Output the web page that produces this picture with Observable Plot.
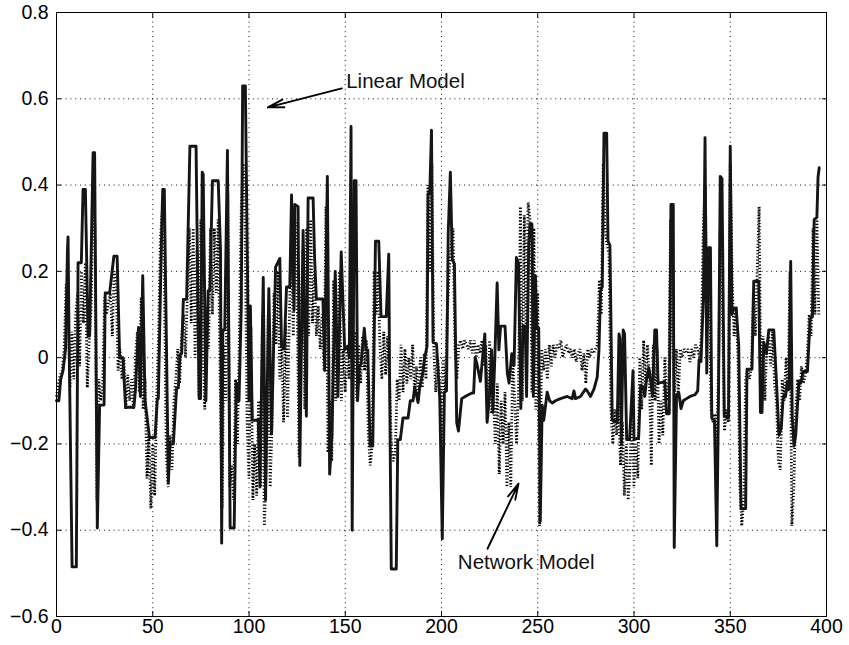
<!DOCTYPE html>
<html>
<head>
<meta charset="utf-8">
<script src="https://cdn.jsdelivr.net/npm/d3@7"></script>
<script src="https://cdn.jsdelivr.net/npm/@observablehq/plot@0.6"></script>
<style>
  html, body { margin: 0; padding: 0; background: #fff; }
  #chart svg { display: block; }
</style>
</head>
<body>
<div id="chart"></div>
<script>
// ---- Axis ticks ----
const xTicks = [0, 50, 100, 150, 200, 250, 300, 350, 400];
const yTicks = [-0.6, -0.4, -0.2, 0, 0.2, 0.4, 0.6, 0.8];

// ---- Linear Model (solid) : breakpoints ----
const linX = [
  0,1.2,2.2,3.4,4.7,5.7,6.0,6.5,8.1,10.3,
  11.2,12.9,13.8,15.0,16.4,17.2,19.0,19.8,21.2,22.4,
  24.7,25.3,27.6,29.8,31.5,32.8,34.5,35.9,40.2,41.0,
  42.6,43.6,44.8,46.0,48.3,51.2,52.4,52.9,54.7,55.2,
  56.0,58.1,59.0,60.7,62.4,63.3,64.1,65.0,65.9,67.6,
  69.3,72.5,74.1,74.8,75.7,76.2,77.6,78.8,79.7,81.0,
  84.0,85.2,85.8,86.4,87.4,88.8,90.2,92.3,93.4,94.3,
  94.8,96.0,96.7,98.1,100.0,100.7,101.7,104.8,105.7,107.4,
  108.6,110.3,111.7,113.8,116.0,116.9,118.3,119.5,121.2,122.1,
  123.4,123.8,125.5,126.4,128.1,129.8,130.7,133.3,134.1,135.0,
  138.4,139.3,140.7,141.9,143.1,144.8,146.2,147.9,149.7,151.4,
  152.1,153.0,153.6,154.7,155.6,156.4,157.3,158.2,159.9,160.8,
  161.7,162.9,164.3,165.7,167.4,168.6,171.3,172.6,173.0,173.9,
  176.5,177.3,178.6,180.0,182.6,183.8,185.2,186.1,187.8,188.7,
  190.1,191.3,192.5,193.0,193.9,194.8,195.6,197.4,199.1,200.4,
  201.5,202.6,203.5,204.6,205.6,206.7,207.9,208.8,210.5,212.3,
  214.0,215.8,216.7,217.5,218.4,220.2,222.5,223.7,224.9,226.0,
  226.7,227.7,228.9,229.8,230.7,233.0,234.2,235.1,236.5,237.7,
  238.9,240.0,241.2,242.4,243.5,244.2,245.3,246.0,247.0,247.7,
  248.8,249.5,250.5,251.3,252.3,253.1,254.9,256.2,257.5,259.2,
  261.8,265.3,267.9,268.8,269.6,272.2,274.8,275.7,277.4,279.2,
  280.9,281.8,282.6,283.5,284.4,285.8,286.5,287.5,288.7,291.3,
  292.2,292.7,293.4,294.4,295.1,296.2,297.7,299.5,300.0,302.4,
  303.5,304.7,305.6,306.4,307.7,308.7,309.6,310.8,311.7,312.5,
  316.0,316.9,318.3,319.2,320.4,320.9,322.1,323.3,324.4,325.6,
  327.3,329.1,331.7,333.1,333.8,334.8,336.1,336.9,337.8,338.7,
  339.7,340.4,341.8,343.0,343.9,344.8,345.7,346.9,349.1,350.0,
  350.9,351.7,353.1,354.4,355.6,358.0,358.7,361.3,362.2,364.8,
  365.7,366.5,367.4,368.8,370.0,372.6,374.0,375.3,376.5,377.5,
  378.7,379.6,380.5,381.4,382.2,383.1,384.0,384.8,385.7,386.6,
  388.0,390.1,391.5,392.7,393.6,395.0,395.6,396.2
];
const linY = [
  -0.10,-0.10,-0.05,-0.03,0.02,0.25,0.28,0.05,-0.485,-0.485,
  0.22,0.22,0.39,0.39,0.05,0.05,0.475,0.475,-0.395,-0.11,
  -0.11,0.15,0.15,0.235,0.235,0.0,0.0,-0.115,-0.115,-0.075,
  0.07,-0.09,0.19,-0.10,-0.185,-0.185,-0.095,-0.095,0.31,0.39,
  0.39,-0.29,-0.20,-0.20,-0.07,-0.07,0.005,0.01,0.135,0.135,
  0.49,0.49,-0.095,-0.095,0.43,0.425,-0.10,0.155,0.155,0.41,
  0.41,0.25,-0.43,0.064,0.064,0.48,-0.395,-0.395,-0.06,-0.06,
  -0.10,0.12,0.63,0.63,-0.10,0.12,-0.145,-0.145,-0.30,0.186,
  -0.33,0.16,-0.177,0.21,0.23,0.027,0.02,0.164,0.164,0.377,
  0.11,0.355,0.35,-0.25,0.295,-0.136,0.37,0.37,0.227,0.136,
  0.136,-0.03,0.42,-0.27,-0.18,0.20,-0.09,0.245,0.018,0.027,
  0.0,0.536,-0.40,0.41,0.41,-0.10,-0.02,-0.015,0.068,0.018,
  0.018,-0.205,-0.205,0.27,0.27,0.095,0.095,0.24,-0.027,-0.49,
  -0.49,-0.19,-0.19,-0.14,-0.14,-0.10,-0.10,-0.068,-0.104,-0.068,
  -0.04,0.0,0.027,0.38,0.38,0.527,0.036,0.032,-0.095,-0.42,
  -0.08,-0.077,0.29,0.43,0.227,0.218,-0.15,-0.17,-0.095,-0.09,
  -0.086,-0.082,-0.082,0.0,-0.014,-0.055,0.055,-0.15,-0.09,0.018,
  -0.127,0.0,0.173,0.018,0.073,0.073,-0.036,-0.059,0.009,-0.018,
  0.232,0.218,-0.118,0.073,0.073,-0.09,0.264,0.31,0.31,-0.09,
  0.19,0.068,0.068,-0.38,-0.11,-0.145,-0.08,-0.10,-0.105,-0.10,
  -0.095,-0.09,-0.095,-0.077,-0.095,-0.09,-0.073,-0.077,-0.09,-0.073,
  -0.045,0.018,0.155,0.164,0.52,0.52,0.27,0.26,-0.145,-0.15,
  0.055,0.045,-0.20,0.064,0.055,-0.19,-0.19,-0.03,-0.19,-0.186,
  -0.064,-0.068,-0.09,-0.055,-0.023,-0.055,-0.09,0.064,0.064,-0.059,
  -0.056,-0.13,-0.13,0.355,0.355,-0.44,-0.086,-0.082,-0.118,-0.10,
  -0.095,-0.09,-0.086,-0.077,-0.005,-0.009,0.145,0.51,-0.036,0.255,
  0.255,-0.14,-0.145,-0.436,-0.09,0.42,0.415,-0.136,-0.14,0.49,
  0.10,0.114,0.114,0.027,-0.35,-0.35,-0.027,-0.027,0.177,0.177,
  -0.127,-0.127,0.036,0.009,0.064,0.064,-0.055,-0.18,-0.164,-0.09,
  -0.09,-0.055,-0.073,0.223,-0.136,-0.205,-0.18,-0.118,-0.055,-0.059,
  -0.032,-0.032,0.09,0.095,0.32,0.325,0.418,0.44
];

// ---- Network Model (dotted) : one value per sample 0..396 ----
const netY = [
  -0.09,-0.06,-0.04,-0.03,0.02,0.17,0.12,-0.07,0.06,-0.05,
  0.1,0.15,-0.02,0.2,0.08,0.22,-0.07,0.04,0.12,0.38,
  0.3,-0.33,-0.05,-0.1,-0.06,0.14,0.1,0.13,0.15,0.05,
  0.2,0.18,-0.03,0.02,-0.05,0.0,-0.12,-0.04,-0.1,-0.05,
  -0.12,0.0,0.06,-0.08,0.14,-0.12,-0.05,-0.28,-0.18,-0.35,
  -0.2,-0.32,-0.1,0.05,0.28,0.34,0.2,-0.22,-0.3,-0.18,
  -0.26,-0.1,-0.05,0.02,-0.06,0.05,0.1,0.0,0.15,0.3,
  0.08,0.3,0.0,0.25,-0.09,0.32,0.05,-0.12,0.12,0.02,
  0.3,0.1,0.3,0.15,0.32,-0.05,-0.35,0.03,-0.1,0.38,
  -0.3,-0.25,-0.33,-0.05,-0.2,0.05,0.35,0.45,0.3,-0.15,
  -0.28,0.07,-0.33,-0.2,-0.32,-0.1,-0.3,0.1,-0.39,-0.25,
  0.1,-0.3,-0.15,0.15,0.03,0.2,-0.05,0.04,-0.15,0.08,
  -0.14,0.1,0.3,0.05,0.32,0.15,-0.23,0.1,0.25,-0.12,
  0.3,0.05,0.32,0.08,0.2,0.05,0.12,0.02,0.1,-0.03,
  0.35,-0.22,-0.1,-0.24,0.18,-0.1,0.05,0.2,-0.1,0.02,
  -0.08,0.03,-0.05,0.35,-0.07,0.06,-0.1,0.03,-0.06,0.05,
  -0.03,0.04,-0.18,-0.25,-0.2,0.2,0.1,0.2,0.03,-0.05,
  0.06,-0.04,0.05,-0.05,-0.21,-0.24,-0.22,-0.05,-0.1,0.03,
  -0.08,0.02,-0.06,0.0,-0.05,0.03,-0.08,-0.02,-0.1,0.0,
  -0.07,0.01,-0.05,0.4,0.2,0.45,0.02,-0.08,0.0,-0.05,
  -0.2,0.0,-0.08,0.1,0.2,0.26,0.3,0.02,-0.05,0.03,
  0.04,0.02,0.04,0.03,0.02,0.04,0.01,0.04,0.0,0.03,
  0.01,0.04,-0.02,0.03,-0.14,0.04,-0.13,-0.1,-0.2,-0.06,
  -0.27,-0.1,-0.2,-0.08,-0.3,-0.15,-0.3,0.0,-0.1,-0.2,
  -0.08,0.35,-0.1,0.33,0.05,0.36,0.32,-0.08,0.3,-0.12,
  0.15,-0.39,0.02,-0.03,0.02,-0.05,0.03,-0.02,0.03,0.0,
  0.03,0.02,0.04,0.0,0.02,0.03,0.01,0.02,0.0,0.02,
  -0.01,0.01,0.02,-0.03,0.01,-0.06,0.02,0.0,0.02,0.01,
  0.02,0.03,0.18,0.1,0.45,0.3,0.26,0.24,-0.12,-0.2,
  -0.12,-0.18,-0.1,-0.25,-0.15,-0.32,-0.2,-0.33,-0.25,-0.1,
  -0.3,-0.2,-0.28,0.0,-0.12,0.04,-0.07,0.03,-0.05,-0.25,
  0.03,-0.1,0.02,-0.2,-0.1,-0.18,0.0,-0.08,-0.1,0.32,
  0.05,-0.08,0.02,-0.09,0.02,0.0,0.02,0.01,0.02,-0.01,
  0.02,0.0,0.03,0.02,0.0,0.05,0.3,0.4,0.1,0.25,
  -0.12,-0.15,-0.13,-0.2,0.0,0.38,0.1,-0.17,-0.12,-0.15,
  0.45,0.18,0.05,0.12,0.0,-0.3,-0.39,-0.33,-0.05,-0.03,
  -0.05,-0.02,0.15,0.05,0.2,0.35,-0.12,0.05,-0.1,0.03,
  0.05,-0.02,0.06,-0.06,-0.1,-0.24,-0.26,-0.05,-0.1,0.0,
  -0.08,0.2,-0.39,-0.3,-0.12,-0.05,-0.1,-0.02,-0.06,-0.04,
  0.0,0.1,0.05,0.3,0.1,0.32,0.1
];

// ---- Annotations ----
const annoText = ["Linear Model", "Network Model"];
const annoX = [150.5, 208.5];
const annoY = [0.641, -0.475];
const arrowX1 = [148.2, 223.9];
const arrowY1 = [0.624, -0.443];
const arrowX2 = [109.8, 240.0];
const arrowY2 = [0.580, -0.292];

// ---- Tables built from the arrays ----
const linData = linX.map((x, i) => ({x, y: linY[i]}));
const netData = netY.map((y, i) => ({x: i, y}));
const annoData = annoText.map((t, i) => ({t, x: annoX[i], y: annoY[i]}));
const arrowData = arrowX1.map((x1, i) => ({x1, y1: arrowY1[i], x2: arrowX2[i], y2: arrowY2[i]}));

const fmtY = d => d === 0 ? "0" : d3.format(".1f")(d);
const blank = () => "";
const gridStyle = {stroke: "#111", strokeOpacity: 1, strokeWidth: 1, strokeDasharray: "1,3.8"};

const chart = Plot.plot({
  width: 849,
  height: 645,
  marginLeft: 56,
  marginRight: 23,
  marginTop: 12,
  marginBottom: 29,
  style: {fontFamily: '"Liberation Sans", Arial, Helvetica, sans-serif', fontSize: "19px", color: "#000", background: "#fff"},
  x: {domain: [0, 400]},
  y: {domain: [-0.6, 0.8]},
  marks: [
    Plot.gridX(xTicks, gridStyle),
    Plot.gridY(yTicks, gridStyle),
    Plot.line(netData, {x: "x", y: "y", stroke: "#000", strokeWidth: 2.8, strokeDasharray: "1.2,2", strokeLinecap: "butt", strokeLinejoin: "miter"}),
    Plot.line(linData, {x: "x", y: "y", stroke: "#151515", strokeWidth: 2.9, strokeLinejoin: "round"}),
    Plot.frame({stroke: "#000", strokeWidth: 1}),
    // inward tick marks on all four sides
    Plot.axisX(xTicks, {anchor: "bottom", tickSize: 5, dy: -5, tickFormat: blank, label: null}),
    Plot.axisX(xTicks, {anchor: "top", tickSize: 5, dy: 5, tickFormat: blank, label: null}),
    Plot.axisY(yTicks, {anchor: "left", tickSize: 5, dx: 5, tickFormat: blank, label: null}),
    Plot.axisY(yTicks, {anchor: "right", tickSize: 5, dx: -5, tickFormat: blank, label: null}),
    // tick labels
    Plot.axisX(xTicks, {anchor: "bottom", tickSize: 0, tickPadding: 3, label: null, fontSize: 19.5}),
    Plot.axisY(yTicks, {anchor: "left", tickSize: 0, tickPadding: 8, label: null, tickFormat: fmtY, fontSize: 19.5}),
    // annotations
    Plot.arrow(arrowData, {x1: "x1", y1: "y1", x2: "x2", y2: "y2", stroke: "#000", strokeWidth: 1.9, headLength: 13, headAngle: 28}),
    Plot.text(annoData, {x: "x", y: "y", text: "t", textAnchor: "start", fontSize: 20.5, fill: "#111"})
  ]
});
document.getElementById("chart").appendChild(chart);
</script>
</body>
</html>
